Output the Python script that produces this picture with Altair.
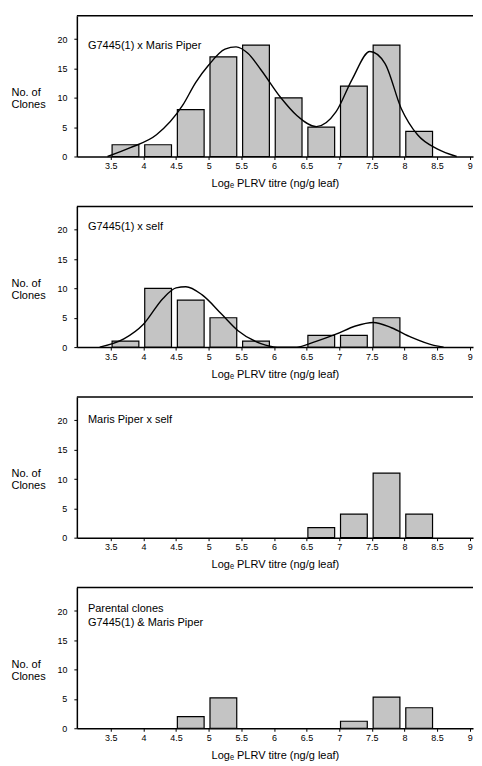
import altair as alt
import pandas as pd

# ---- data ----
bin_starts = [3.5, 4.0, 4.5, 5.0, 5.5, 6.0, 6.5, 7.0, 7.5, 8.0]
counts_p1 = [2, 2, 8, 17, 19, 10, 5, 12, 19, 4.3]
counts_p2 = [1, 10, 8, 5, 1, 0, 2, 2, 5, 0]
counts_p3 = [0, 0, 0, 0, 0, 0, 1.7, 4, 11, 4]
counts_p4 = [0, 0, 2, 5.2, 0, 0, 0, 1.2, 5.3, 3.5]

curve1_x = [3.45, 3.8, 4.2, 4.6, 4.8, 5.0, 5.25, 5.42, 5.6, 5.8, 6.1, 6.35,
            6.65, 6.95, 7.2, 7.47, 7.7, 7.95, 8.2, 8.5, 8.8]
curve1_y = [0, 1.5, 3.7, 8.7, 12.6, 15.6, 18.3, 18.7, 17.6, 14.8, 10.1, 7.0,
            5.1, 7.6, 13.2, 17.9, 15.9, 8.2, 3.7, 1.3, 0]

curve2_x = [3.33, 3.7, 4.0, 4.3, 4.5, 4.65, 4.9, 5.2, 5.45, 5.8, 6.05, 6.35,
            6.6, 6.95, 7.25, 7.52, 7.8, 8.1, 8.45, 8.6]
curve2_y = [0, 1.4, 3.9, 8.3, 10.1, 10.3, 8.9, 5.6, 2.8, 0.6, 0, 0,
            0.8, 2.2, 3.6, 4.2, 3.3, 1.7, 0.3, 0]

label_p1 = ["G7445(1) x Maris Piper"]
label_p2 = ["G7445(1) x self"]
label_p3 = ["Maris Piper x self"]
label_p4 = ["Parental clones", "G7445(1) & Maris Piper"]
label_y_p = [[18.9], [20.4], [20.1], [20.4, 18.0]]

x_ticks = [3.5, 4, 4.5, 5, 5.5, 6, 6.5, 7, 7.5, 8, 8.5, 9]
y_ticks = [0, 5, 10, 15, 20]
x_title = "Logₑ PLRV titre (ng/g leaf)"
y_title = ["No. of", "Clones"]

FONT = "Liberation Sans"
X_DOM = [2.98, 9.05]
Y_DOM = [0, 24]
W, H = 397, 141
BIN_W = 0.5

XS = alt.Scale(domain=X_DOM, nice=False, zero=False)
YS = alt.Scale(domain=Y_DOM, nice=False)
X_AXIS = alt.Axis(values=x_ticks, title=x_title, format="~g")
Y_AXIS = alt.Axis(values=y_ticks, title=y_title, titleAngle=0,
                  titleAlign="left", titleBaseline="top",
                  titleX=-66, titleY=71, titleLineHeight=12)


def panel(counts, lines, ys, cx=None, cy=None):
    bars = pd.DataFrame({
        "start": [s + 0.04 * BIN_W for s in bin_starts],
        "end": [s + 0.86 * BIN_W for s in bin_starts],
        "n": counts,
    })
    bars = bars[bars["n"] > 0]
    bar = alt.Chart(bars).mark_rect(
        fill="#c4c4c4", stroke="black", strokeWidth=1.2
    ).encode(
        x=alt.X("start:Q", scale=XS, axis=X_AXIS),
        x2="end:Q",
        y=alt.Y("n:Q", scale=YS, axis=Y_AXIS),
        y2=alt.datum(0),
    )
    top = alt.Chart(pd.DataFrame({"n": [Y_DOM[1]]})).mark_rule(
        color="black", strokeWidth=1.5
    ).encode(y=alt.Y("n:Q", scale=YS, axis=Y_AXIS))
    layers = [bar, top]
    if cx is not None:
        cdf = pd.DataFrame({"start": cx, "n": cy})
        line = alt.Chart(cdf).mark_line(
            color="black", strokeWidth=1.4, interpolate="monotone"
        ).encode(
            x=alt.X("start:Q", scale=XS, axis=X_AXIS),
            y=alt.Y("n:Q", scale=YS, axis=Y_AXIS),
        )
        layers.append(line)
    tdf = pd.DataFrame({"start": [3.15] * len(lines), "n": ys, "t": lines})
    txt = alt.Chart(tdf).mark_text(
        align="left", baseline="middle", fontSize=11, font=FONT, color="black"
    ).encode(
        x=alt.X("start:Q", scale=XS, axis=X_AXIS),
        y=alt.Y("n:Q", scale=YS, axis=Y_AXIS),
        text="t:N",
    )
    layers.append(txt)
    return alt.layer(*layers).properties(width=W, height=H)


chart = alt.vconcat(
    panel(counts_p1, label_p1, label_y_p[0], curve1_x, curve1_y),
    panel(counts_p2, label_p2, label_y_p[1], curve2_x, curve2_y),
    panel(counts_p3, label_p3, label_y_p[2]),
    panel(counts_p4, label_p4, label_y_p[3]),
    spacing=17,
).properties(
    padding={"left": 3, "top": 6, "right": 0, "bottom": 0},
    background="white",
).configure_view(
    stroke=None
).configure_axis(
    grid=False,
    domainColor="black", domainWidth=1.5,
    tickColor="black", tickSize=3, tickWidth=1,
    labelColor="black", labelFont=FONT, labelFontSize=9, labelPadding=2,
    titleColor="black", titleFont=FONT, titleFontSize=11,
    titleFontWeight="normal", titlePadding=7,
).configure_axisY(
    labelPadding=7
)

chart.save("out.html", embed_options={"renderer": "svg", "actions": False})
